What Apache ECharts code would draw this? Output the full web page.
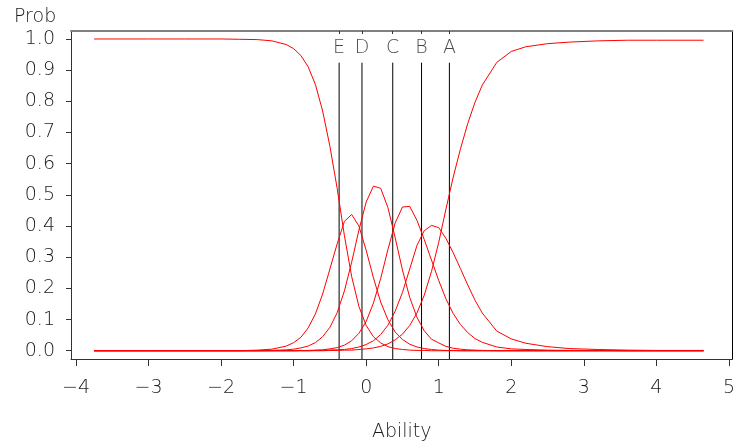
<!DOCTYPE html>
<html>
<head>
<meta charset="utf-8">
<script src="https://cdn.jsdelivr.net/npm/echarts@6/dist/echarts.min.js"></script>
<style>
html,body{margin:0;padding:0;background:#fff;}
#chart{width:738px;height:447px;}
</style>
</head>
<body>
<div id="chart"></div>
<script>
// Ability grid (x values)
const ability = [-3.75, -3.0, -2.5, -2.0, -1.75, -1.5, -1.3, -1.1, -1.0, -0.9, -0.8, -0.7, -0.6, -0.5, -0.4, -0.3, -0.2, -0.1, 0.0, 0.1, 0.2, 0.3, 0.4, 0.5, 0.6, 0.7, 0.8, 0.9, 1.0, 1.1, 1.2, 1.3, 1.4, 1.5, 1.6, 1.8, 2.0, 2.2, 2.5, 2.8, 3.2, 3.6, 4.0, 4.65];
// Category probability curves
const probCat1 = [1.000,1.000,1.000,1.000,0.999,0.998,0.994,0.982,0.969,0.947,0.911,0.854,0.769,0.656,0.521,0.369,0.238,0.142,0.081,0.045,0.025,0.013,0.007,0.004,0.002,0.001,0.001,0,0,0,0,0,0,0,0,0,0,0,0,0,0,0,0,0];
const probCat2 = [0,0,0,0,0,0.002,0.005,0.015,0.026,0.043,0.073,0.118,0.182,0.262,0.343,0.415,0.437,0.400,0.322,0.234,0.156,0.099,0.060,0.036,0.021,0.012,0.007,0.004,0.002,0.001,0.001,0,0,0,0,0,0,0,0,0,0,0,0,0];
const probCat3 = [0,0,0,0,0,0,0.001,0.003,0.005,0.009,0.015,0.026,0.045,0.075,0.122,0.192,0.284,0.387,0.477,0.528,0.521,0.459,0.362,0.259,0.171,0.107,0.064,0.037,0.025,0.014,0.008,0.005,0.003,0.002,0.001,0,0,0,0,0,0,0,0,0];
const probCat4 = [0,0,0,0,0,0,0,0,0,0.001,0.001,0.002,0.003,0.006,0.010,0.018,0.032,0.056,0.094,0.153,0.232,0.325,0.410,0.461,0.463,0.418,0.357,0.291,0.225,0.166,0.119,0.084,0.058,0.039,0.027,0.012,0.006,0.004,0.002,0.001,0.001,0,0,0];
const probCat5 = [0,0,0,0,0,0,0,0,0,0,0,0.001,0.001,0.002,0.003,0.004,0.007,0.012,0.020,0.032,0.052,0.082,0.127,0.187,0.262,0.338,0.385,0.402,0.395,0.360,0.314,0.263,0.211,0.162,0.121,0.063,0.038,0.024,0.013,0.007,0.004,0.002,0.001,0.001];
const probCat6 = [0,0,0,0,0,0,0,0,0,0,0,0,0,0.001,0.001,0.002,0.002,0.004,0.006,0.009,0.014,0.022,0.035,0.053,0.081,0.121,0.178,0.254,0.348,0.455,0.557,0.648,0.729,0.797,0.852,0.925,0.960,0.975,0.985,0.990,0.994,0.996,0.996,0.996];
// Reference lines
const refNames = ['E', 'D', 'C', 'B', 'A'];
const refPos = [-0.373, -0.058, 0.366, 0.763, 1.147];
const refTop = 0.924;
const refLabelY = 0.97;
// Tick values
const xTicks = [-4, -3, -2, -1, 0, 1, 2, 3, 4, 5];
const yTicks = [0, 0.1, 0.2, 0.3, 0.4, 0.5, 0.6, 0.7, 0.8, 0.9, 1.0];

const X_MIN = -4.0684, X_MAX = 5.0474;
const Y_MIN = -0.0265, Y_MAX = 1.0256;
const FONT = '"DejaVu Sans", sans-serif';
const TXT = '#1a1a1a';

const curves = [probCat1, probCat2, probCat3, probCat4, probCat5, probCat6];
const series = [];
refPos.forEach((p) => {
  series.push({
    type: 'line', xAxisIndex: 0, yAxisIndex: 0, silent: true,
    symbol: 'none', animation: false,
    lineStyle: { color: '#000', width: 1 },
    data: [[p, Y_MIN], [p, refTop]], z: 1
  });
});
curves.forEach((arr) => {
  series.push({
    type: 'line', xAxisIndex: 0, yAxisIndex: 0, silent: true,
    symbol: 'none', animation: false, smooth: false,
    lineStyle: { color: '#ff0000', width: 1 },
    data: ability.map((t, i) => [t, arr[i]]), z: 2
  });
});
series.push({
  type: 'scatter', xAxisIndex: 0, yAxisIndex: 0, silent: true,
  symbolSize: 1, itemStyle: { color: 'rgba(0,0,0,0)' }, animation: false,
  label: { show: true, position: 'inside', formatter: '{b}', color: TXT, fontSize: 19, fontFamily: FONT, fontWeight: 200 },
  data: refPos.map((p, i) => ({ name: refNames[i], value: [p, refLabelY] }))
});

const chart = echarts.init(document.getElementById('chart'), null, { renderer: 'canvas' });
chart.setOption({
  animation: false,
  backgroundColor: '#fff',
  title: {
    text: 'Prob', left: 9, top: 3,
    textStyle: { fontSize: 19, fontWeight: 200, color: TXT, fontFamily: FONT }
  },
  grid: { left: 71, right: 1, top: 31, bottom: 87, containLabel: false },
  xAxis: [
    {
      type: 'value', position: 'bottom', min: X_MIN, max: X_MAX,
      axisLine: { show: true, onZero: false, lineStyle: { color: '#333', width: 1 } },
      axisTick: { show: true, customValues: xTicks, length: 7, lineStyle: { color: '#333' } },
      axisLabel: {
        show: true, customValues: xTicks, margin: 20, fontSize: 19, color: TXT, fontFamily: FONT, fontWeight: 200,
        formatter: (v) => (v < 0 ? '\u2212' + Math.abs(v) : String(v))
      },
      splitLine: { show: false },
      name: 'Ability', nameLocation: 'middle', nameGap: 64,
      nameTextStyle: { fontSize: 19, color: TXT, fontFamily: FONT, fontWeight: 200 }
    },
    {
      type: 'value', position: 'top', min: X_MIN, max: X_MAX,
      axisLine: { show: true, onZero: false, lineStyle: { color: '#808080', width: 2 } },
      axisTick: { show: true, inside: true, customValues: refPos, length: 3, lineStyle: { color: '#333' } },
      axisLabel: { show: false },
      splitLine: { show: false }
    }
  ],
  yAxis: [
    {
      type: 'value', position: 'left', min: Y_MIN, max: Y_MAX,
      axisLine: { show: true, onZero: false, lineStyle: { color: '#333', width: 1 } },
      axisTick: { show: true, customValues: yTicks, length: 5, lineStyle: { color: '#333' } },
      axisLabel: {
        show: true, customValues: yTicks, margin: 16, fontSize: 19, color: TXT, fontFamily: FONT, fontWeight: 200,
        formatter: (v) => v.toFixed(1)
      },
      splitLine: { show: false }
    },
    {
      type: 'value', position: 'right', min: Y_MIN, max: Y_MAX,
      axisLine: { show: true, onZero: false, lineStyle: { color: '#000', width: 1 } },
      axisTick: { show: false }, axisLabel: { show: false }, splitLine: { show: false }
    }
  ],
  series: series
});
</script>
</body>
</html>
